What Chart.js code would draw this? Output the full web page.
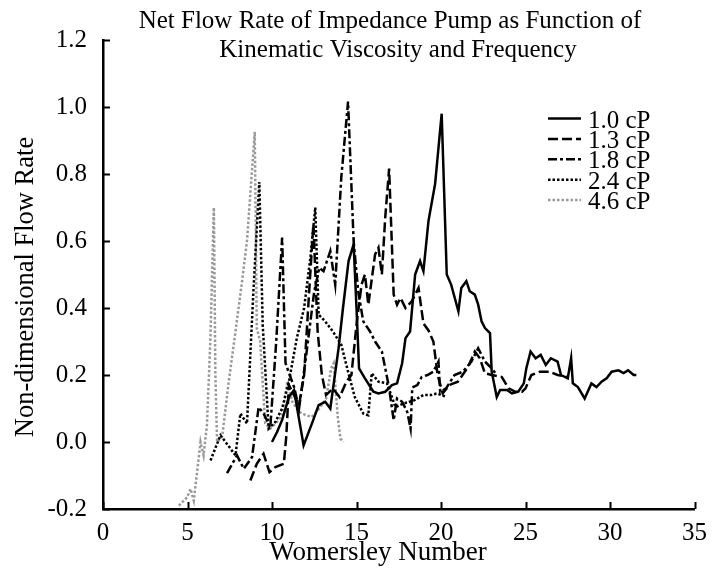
<!DOCTYPE html>
<html>
<head>
<meta charset="utf-8">
<title>Net Flow Rate of Impedance Pump</title>
<script src="https://cdn.jsdelivr.net/npm/chart.js@4.4.0/dist/chart.umd.min.js"></script>
<style>
  html, body { margin: 0; padding: 0; background: #fff; }
  #chart { display: block; }
</style>
</head>
<body>
<canvas id="chart" width="716" height="572"></canvas>
<script>
// Womersley number (wo) and non-dimensional net flow rate (q) for each viscosity
const seriesLabels = ['1.0 cP', '1.3 cP', '1.8 cP', '2.4 cP', '4.6 cP'];

const wo10 = [10.0,10.3,10.6,11.0,11.3,11.87,12.4,12.76,13.15,13.45,13.94,14.2,14.53,14.83,15.0,15.15,15.5,16.0,16.3,16.7,17.1,17.4,17.7,17.9,18.17,18.47,18.76,18.96,19.26,19.65,20.04,20.34,20.6,21.03,21.2,21.5,21.7,22.0,22.2,22.4,22.6,22.9,23.0,23.3,23.5,23.9,24.2,24.57,24.9,25.05,25.3,25.6,25.9,26.2,26.5,26.9,27.1,27.5,27.7,27.8,28.1,28.5,28.9,29.2,29.5,29.8,30.1,30.5,30.8,31.07,31.4,31.56];
const q10  = [0.00,0.03,0.066,0.134,0.155,-0.01,0.06,0.11,0.12,0.10,0.28,0.40,0.54,0.59,0.40,0.22,0.19,0.15,0.145,0.15,0.17,0.175,0.235,0.31,0.33,0.50,0.54,0.51,0.66,0.77,0.98,0.50,0.47,0.39,0.46,0.48,0.45,0.44,0.41,0.36,0.34,0.325,0.21,0.134,0.155,0.155,0.145,0.15,0.175,0.22,0.27,0.25,0.26,0.23,0.25,0.24,0.20,0.19,0.25,0.175,0.164,0.13,0.175,0.164,0.18,0.19,0.21,0.214,0.206,0.214,0.20,0.20];

const wo13 = [8.72,9.1,9.5,9.85,10.2,10.7,10.85,11.0,11.3,11.6,11.9,12.2,12.45,12.7,12.95,13.2,13.6,14.0,14.4,14.7,15.0,15.3,15.5,15.7,16.1,16.3,16.5,16.7,16.93,17.2,17.4,17.6,17.9,18.27,18.67,18.96,19.26,19.55,19.8,20.1,20.5,21.0,21.6,22.0,22.3,22.6,23.0,23.6,24.0,24.4,24.8,25.0,25.35,25.85,26.4,26.9,27.5];
const q13  = [-0.115,-0.065,-0.035,-0.09,-0.075,-0.065,0.02,0.17,0.14,0.11,0.20,0.45,0.65,0.33,0.20,0.14,0.16,0.134,0.18,0.20,0.35,0.47,0.50,0.41,0.56,0.58,0.50,0.67,0.816,0.44,0.41,0.43,0.40,0.42,0.46,0.354,0.333,0.30,0.20,0.145,0.17,0.18,0.224,0.27,0.25,0.205,0.20,0.194,0.16,0.15,0.15,0.16,0.20,0.21,0.21,0.20,0.194];

const wo18 = [7.34,7.93,8.33,8.82,9.21,9.5,9.9,10.25,10.6,10.8,11.3,11.6,12.0,12.5,12.8,13.05,13.45,13.74,14.1,14.5,14.83,15.1,15.4,15.8,16.1,16.5,16.9,17.2,17.4,17.7,18.0,18.2,18.3,18.6,18.86,19.2,19.55,19.85,19.95,20.3,20.8,21.3,21.8,22.2,22.6,23.0,23.3];
const q18  = [-0.093,-0.04,-0.08,-0.045,0.104,0.085,0.044,0.30,0.61,0.235,0.165,0.10,0.25,0.45,0.52,0.51,0.57,0.47,0.79,1.016,0.60,0.45,0.36,0.33,0.30,0.27,0.17,0.065,0.13,0.12,0.09,0.04,0.163,0.17,0.194,0.20,0.21,0.24,0.15,0.16,0.20,0.21,0.24,0.28,0.24,0.22,0.20];

const wo24 = [6.36,6.95,7.4,7.84,8.13,8.52,8.9,9.25,9.45,9.8,10.2,10.6,11.0,11.47,11.9,12.27,12.56,12.76,13.15,13.6,14.1,14.5,14.9,15.4,15.7,15.9,16.3,16.8,17.1,17.3,17.8,18.4,18.96,19.4,19.75,20.04,20.34];
const q24  = [-0.055,0.02,-0.01,-0.04,0.085,0.055,0.45,0.776,0.35,0.04,0.06,0.10,0.18,0.31,0.40,0.55,0.70,0.38,0.36,0.33,0.29,0.21,0.134,0.085,0.08,0.205,0.18,0.175,0.134,0.104,0.115,0.124,0.14,0.14,0.145,0.14,0.134];

const wo46 = [4.49,4.98,5.18,5.37,5.67,5.77,5.95,6.15,6.35,6.56,6.65,6.75,7.05,7.44,7.84,8.23,8.52,8.98,9.1,9.3,9.6,9.9,10.3,10.6,10.9,11.2,11.6,12.0,12.35,12.8,13.2,13.5,13.65,13.9,14.05,14.23];
const q46  = [-0.19,-0.165,-0.14,-0.175,-0.045,0.0,-0.04,0.05,0.30,0.70,0.20,0.0,0.015,0.18,0.33,0.48,0.60,0.926,0.34,0.30,0.055,0.04,0.06,0.08,0.18,0.12,0.09,0.08,0.075,0.10,0.13,0.22,0.235,0.07,0.01,0.0];

const xTicks = [0, 5, 10, 15, 20, 25, 30, 35];
const yTicks = [-0.2, 0.0, 0.2, 0.4, 0.6, 0.8, 1.0, 1.2];

const titleLines = ['Net Flow Rate of Impedance Pump as Function of', 'Kinematic Viscosity and Frequency'];
const xTitle = 'Womersley Number';
const yTitle = 'Non-dimensional Flow Rate';

// ---- presentation ----
const serif = "'Liberation Serif', 'Times New Roman', Times, serif";
const lineStyles = [
  { color: '#000000', dash: [] },
  { color: '#000000', dash: [10, 4] },
  { color: '#000000', dash: [9, 3, 3, 3] },
  { color: '#000000', dash: [2.5, 2] },
  { color: '#999999', dash: [2.5, 2] }
];

function zipPoints(xs, ys) {
  const n = Math.min(xs.length, ys.length);
  const pts = [];
  for (let i = 0; i < n; i++) pts.push({ x: xs[i], y: ys[i] });
  return pts;
}

const seriesData = [zipPoints(wo10, q10), zipPoints(wo13, q13), zipPoints(wo18, q18), zipPoints(wo24, q24), zipPoints(wo46, q46)];

const datasets = seriesData.map((pts, i) => ({
  label: seriesLabels[i],
  data: pts,
  borderColor: lineStyles[i].color,
  backgroundColor: lineStyles[i].color,
  borderDash: lineStyles[i].dash,
  borderWidth: 2.5,
  borderCapStyle: 'butt',
  pointRadius: 0,
  pointHoverRadius: 0,
  tension: 0,
  fill: false
}));

// Inward tick marks, axis titles, chart title and the line-sample legend
const decorations = {
  id: 'decorations',
  afterDraw(chart) {
    const { ctx, chartArea: area, scales } = chart;
    const xs = scales.x, ys = scales.y;
    ctx.save();

    ctx.strokeStyle = '#000';
    ctx.lineWidth = 2;
    ctx.setLineDash([]);
    ys.ticks.forEach(t => {
      const p = Math.round(ys.getPixelForValue(t.value)) + 0.5;
      ctx.beginPath();
      ctx.moveTo(area.left, p);
      ctx.lineTo(area.left + 7, p);
      ctx.stroke();
    });
    xs.ticks.forEach(t => {
      const p = Math.round(xs.getPixelForValue(t.value)) + 0.5;
      ctx.beginPath();
      ctx.moveTo(p, area.bottom);
      ctx.lineTo(p, area.bottom - 7);
      ctx.stroke();
    });

    ctx.fillStyle = '#000';
    ctx.textBaseline = 'alphabetic';
    ctx.textAlign = 'center';

    ctx.font = '25px ' + serif;
    ctx.fillText(titleLines[0], 390, 28);
    ctx.fillText(titleLines[1], 398, 57);

    ctx.font = '27px ' + serif;
    ctx.fillText(xTitle, 378, 560);

    ctx.save();
    ctx.font = '26.5px ' + serif;
    ctx.translate(33, 287);
    ctx.rotate(-Math.PI / 2);
    ctx.fillText(yTitle, 0, 0);
    ctx.restore();

    // legend
    ctx.textAlign = 'left';
    ctx.font = '25px ' + serif;
    chart.data.datasets.forEach((ds, i) => {
      const yRow = 118.5 + i * 20.4;
      ctx.save();
      ctx.strokeStyle = ds.borderColor;
      ctx.lineWidth = ds.borderWidth;
      ctx.lineCap = 'butt';
      ctx.setLineDash(ds.borderDash);
      ctx.beginPath();
      ctx.moveTo(548, yRow);
      ctx.lineTo(581, yRow);
      ctx.stroke();
      ctx.restore();
      ctx.fillText(ds.label, 588, yRow + 9);
    });

    ctx.restore();
  }
};

new Chart(document.getElementById('chart'), {
  type: 'line',
  data: { datasets },
  options: {
    responsive: false,
    animation: false,
    devicePixelRatio: 1,
    layout: { padding: { top: 40, right: 19, left: 0, bottom: 0 } },
    plugins: {
      legend: { display: false },
      title: { display: false },
      tooltip: { enabled: false }
    },
    scales: {
      x: {
        type: 'linear',
        min: 0,
        max: 35,
        afterBuildTicks: s => { s.ticks = xTicks.map(v => ({ value: v })); },
        afterFit: s => { s.height = 63; },
        grid: { display: true, drawOnChartArea: false, drawTicks: false },
        border: { display: true, color: '#000', width: 2.5 },
        ticks: {
          autoSkip: false,
          maxRotation: 0,
          padding: 9,
          color: '#000',
          font: { family: serif, size: 25 },
          callback: v => String(v)
        }
      },
      y: {
        type: 'linear',
        min: -0.2,
        max: 1.2,
        afterBuildTicks: s => { s.ticks = yTicks.map(v => ({ value: v })); },
        afterFit: s => { s.width = 103; },
        grid: { display: true, drawOnChartArea: false, drawTicks: false },
        border: { display: true, color: '#000', width: 2.5 },
        ticks: {
          autoSkip: false,
          padding: 16,
          color: '#000',
          font: { family: serif, size: 25 },
          callback: v => Number(v).toFixed(1)
        }
      }
    }
  },
  plugins: [decorations]
});
</script>
</body>
</html>
